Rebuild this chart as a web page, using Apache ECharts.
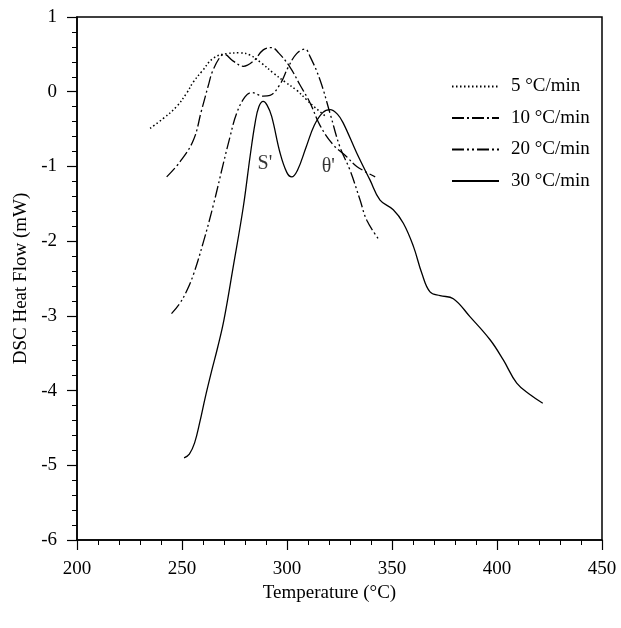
<!DOCTYPE html>
<html>
<head>
<meta charset="utf-8">
<script src="https://cdn.jsdelivr.net/npm/echarts@6/dist/echarts.min.js"></script>
<style>
  html, body { margin: 0; padding: 0; background: #fff; }
  #main { width: 621px; height: 628px; }
</style>
</head>
<body>
<div id="main"></div>
<script>
// DSC curves: [temperature (°C), heat flow (mW)]
var rate5 = [
  [234.8, -0.49], [241, -0.36], [247.4, -0.2], [252.2, -0.02], [255.4, 0.13],
  [259.4, 0.27], [265, 0.45], [271.3, 0.51], [277.6, 0.52], [282.4, 0.49],
  [288, 0.38], [293.5, 0.25], [299.1, 0.13], [304.6, 0.02], [309.4, -0.11],
  [313.3, -0.21], [318, -0.32]
];
var rate10 = [
  [242.7, -1.14], [249, -0.94], [255.4, -0.65], [259.3, -0.25], [262.5, 0.08],
  [264.5, 0.27], [268, 0.46], [270, 0.5], [274.4, 0.41], [279.2, 0.34],
  [284, 0.41], [288.7, 0.56], [292.7, 0.59], [296, 0.52], [301.4, 0.33],
  [306, 0.1], [311, -0.15], [315.7, -0.45], [322, -0.71], [328.4, -0.87],
  [333.2, -1.0], [342, -1.14]
];
var rate20 = [
  [245, -2.97], [249, -2.83], [252, -2.68], [255.4, -2.45], [260.1, -2.02],
  [264.9, -1.52], [269.7, -0.96], [272.9, -0.6], [276, -0.29], [280, -0.07],
  [283.2, -0.01], [288.7, -0.06], [291.9, -0.05], [296.7, 0.1], [300.6, 0.33],
  [304.6, 0.51], [308.6, 0.57], [311, 0.47], [315.7, 0.16], [320.5, -0.29],
  [325.2, -0.74], [330, -1.05], [334.8, -1.45], [338, -1.72], [343.8, -1.98]
];
var rate30 = [
  [251, -4.9], [253.5, -4.85], [256, -4.7], [258.5, -4.42], [261, -4.1],
  [264, -3.75], [267, -3.42], [270, -3.05], [274.4, -2.34], [279.2, -1.54],
  [282.4, -0.87], [284.8, -0.42], [286.6, -0.2], [288.7, -0.13], [290.5, -0.18],
  [292.7, -0.33], [296.7, -0.82], [299.9, -1.08], [302.2, -1.14], [305, -1.05],
  [309, -0.75], [313, -0.45], [317, -0.28], [320.5, -0.24], [324, -0.3],
  [326.8, -0.42], [333.2, -0.82], [339.5, -1.18], [344.3, -1.45], [350.6, -1.58],
  [355.4, -1.76], [360.2, -2.07], [364.2, -2.43], [368.1, -2.68], [372.9, -2.73],
  [379.2, -2.77], [387.1, -3.01], [396.7, -3.32], [403, -3.59], [409.4, -3.9],
  [416, -4.06], [421.8, -4.17]
];
var seriesNames = ['5 °C/min', '10 °C/min', '20 °C/min', '30 °C/min'];
var peakLabels = [[289.5, -0.96, "S'"], [319.7, -1.0, "θ'"]];

var font = 'Liberation Serif';
var myChart = echarts.init(document.getElementById('main'));

function curve(name, data, dash, width) {
  return {
    name: name,
    type: 'line',
    data: data,
    smooth: 0.4,
    symbol: 'none',
    showSymbol: false,
    lineStyle: { color: '#000', width: width, type: dash },
    itemStyle: { color: '#000' }
  };
}

var axisCommon = {
  axisLine: { show: true, onZero: false, lineStyle: { color: '#000', width: 1.5 } },
  axisTick: { show: true, inside: false, length: 10, lineStyle: { color: '#000', width: 1.2 } },
  minorTick: { show: true, splitNumber: 5, length: 5, lineStyle: { color: '#000', width: 1 } },
  splitLine: { show: false },
  axisLabel: { fontFamily: font, fontSize: 19, color: '#000', margin: 20 }
};

var option = {
  animation: false,
  backgroundColor: '#fff',
  textStyle: { fontFamily: font, color: '#000' },
  grid: {
    left: 77, right: 19, top: 17, bottom: 88,
    show: true, borderColor: '#000', borderWidth: 1.5
  },
  legend: {
    data: seriesNames,
    orient: 'vertical',
    left: 446, top: 72,
    itemWidth: 47, itemHeight: 14, itemGap: 12.5,
    selectedMode: false,
    itemStyle: { opacity: 0 },
    textStyle: { fontFamily: font, fontSize: 19, color: '#000', padding: [6, 0, 0, 7] }
  },
  xAxis: Object.assign({
    type: 'value',
    min: 200, max: 450, interval: 50,
    name: 'Temperature (°C)',
    nameLocation: 'middle',
    nameGap: 42,
    nameTextStyle: { fontFamily: font, fontSize: 19, color: '#000', padding: [0, 20, 0, 0] }
  }, axisCommon),
  yAxis: Object.assign({
    type: 'value',
    min: -6, max: 1, interval: 1,
    name: 'DSC Heat Flow (mW)',
    nameLocation: 'middle',
    nameGap: 40,
    nameTextStyle: { fontFamily: font, fontSize: 19, color: '#000' }
  }, axisCommon),
  series: [
    curve(seriesNames[0], rate5, [1.5, 2.5], 1.5),
    curve(seriesNames[1], rate10, [12, 3, 2, 3], 1.3),
    curve(seriesNames[2], rate20, [12, 3, 2, 3, 2, 3], 1.3),
    curve(seriesNames[3], rate30, 'solid', 1.3),
    {
      type: 'scatter',
      data: peakLabels,
      symbol: 'circle',
      symbolSize: 2,
      silent: true,
      itemStyle: { color: 'rgba(0,0,0,0)' },
      label: {
        show: true, position: [1, 1],
        align: 'center', verticalAlign: 'middle',
        fontFamily: font, fontSize: 20, color: '#000',
        formatter: function (p) { return p.data[2]; }
      }
    }
  ]
};

option && myChart.setOption(option);
</script>
</body>
</html>
